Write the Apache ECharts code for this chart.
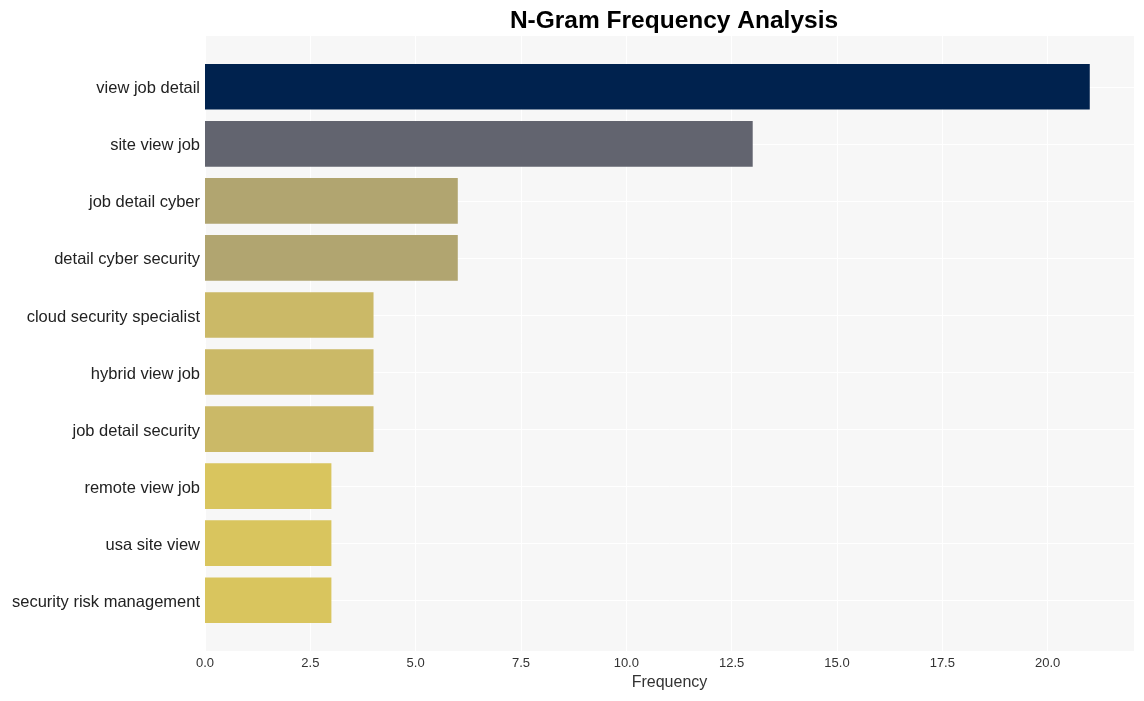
<!DOCTYPE html>
<html><head><meta charset="utf-8">
<script src="https://cdn.jsdelivr.net/npm/echarts@6/dist/echarts.min.js"></script>
<style>html,body{margin:0;padding:0;background:#fff}#c{width:1144px;height:701px}</style>
</head><body><div id="c"></div>
<script>
const categories = ["view job detail","site view job","job detail cyber","detail cyber security","cloud security specialist","hybrid view job","job detail security","remote view job","usa site view","security risk management"];
const values = [21,13,6,6,4,4,4,3,3,3];
const colors = ["#00224e","#62646f","#b1a570","#b1a570","#cbb967","#cbb967","#cbb967","#d9c55e","#d9c55e","#d9c55e"];

const idx = categories.map((_, i) => i);
const FONT = 'Liberation Sans, Arial, sans-serif';
// plot area: top 36, height 615; y-range -0.89..9.89 => 57.05 px per category
const plotTop = 36, plotH = 615, yMin = -0.89, yMax = 9.89;
const unit = plotH / (yMax - yMin);
const bandTop = plotTop + (-0.5 - yMin) * unit;
const bandH = categories.length * unit;

const chart = echarts.init(document.getElementById('c'));
chart.setOption({
  animation: false,
  textStyle: {fontFamily: FONT},
  title: {text: 'N-Gram Frequency Analysis', left: 669, top: 4, textAlign: 'center',
    textStyle: {fontSize: 24.5, fontWeight: 'bold', color: '#000', fontFamily: FONT}},
  grid: [
    {left: 205, right: 10, top: plotTop, height: plotH, show: true, backgroundColor: '#f7f7f7', borderWidth: 0},
    {left: 205, right: 10, top: bandTop, height: bandH, show: false}
  ],
  xAxis: [
    {gridIndex: 0, type: 'value', min: 0, max: 22.05, interval: 2.5,
      name: 'Frequency', nameLocation: 'middle', nameGap: 24,
      nameTextStyle: {fontSize: 16, color: '#333', fontFamily: FONT},
      axisLine: {show: false}, axisTick: {show: false},
      axisLabel: {fontSize: 13, color: '#333', margin: 6, formatter: v => v.toFixed(1), showMaxLabel: false},
      splitLine: {show: true, lineStyle: {color: '#ffffff', width: 1}}},
    {gridIndex: 1, type: 'value', min: 0, max: 22.05, show: false, splitLine: {show: false}}
  ],
  yAxis: [
    {gridIndex: 0, type: 'value', inverse: true, min: yMin, max: yMax,
      axisLine: {show: false},
      axisTick: {show: false, customValues: idx},
      axisLabel: {show: false, customValues: idx},
      splitLine: {show: true, lineStyle: {color: '#ffffff', width: 1}}},
    {gridIndex: 1, type: 'category', inverse: true, data: categories,
      axisLine: {show: false}, axisTick: {show: false}, splitLine: {show: false},
      axisLabel: {margin: 5, formatter: v => '{a|' + v + '}',
        rich: {a: {fontSize: 16.5, color: '#222', fontFamily: FONT, padding: [4, 0, 0, 0]}}}}
  ],
  series: [{type: 'bar', xAxisIndex: 1, yAxisIndex: 1, barWidth: '80%',
    data: values.map((v, i) => ({value: v, itemStyle: {color: colors[i]}}))}]
});
</script></body></html>
